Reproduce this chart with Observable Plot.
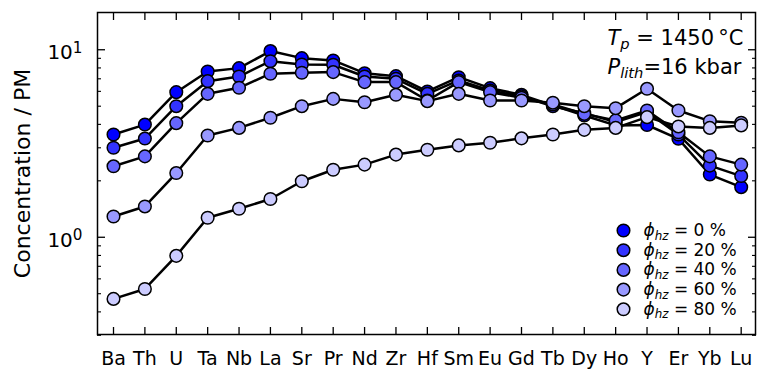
<!DOCTYPE html>
<html><head><meta charset="utf-8">
<script src="https://cdn.jsdelivr.net/npm/d3@7"></script>
<script src="https://cdn.jsdelivr.net/npm/@observablehq/plot@0.6"></script>
<style>
body{margin:0;background:#fff;}
#chart svg{font-family:"DejaVu Sans",sans-serif;}
</style>
</head><body><div id="chart"></div>
<script>
const elements = ["Ba","Th","U","Ta","Nb","La","Sr","Pr","Nd","Zr","Hf","Sm","Eu","Gd","Tb","Dy","Ho","Y","Er","Yb","Lu"];
const phi0  = [3.53, 3.99, 5.94, 7.66, 7.98, 9.84, 9.02, 8.77, 7.50, 7.23, 5.99, 7.14, 6.24, 5.75, 5.05, 4.46, 3.95, 3.97, 3.35, 2.16, 1.85];
const phi20 = [3.00, 3.36, 5.00, 6.80, 7.20, 8.69, 8.35, 8.32, 7.20, 7.00, 5.82, 6.86, 6.06, 5.65, 5.00, 4.59, 4.11, 4.65, 3.53, 2.41, 2.12];
const phi40 = [2.39, 2.70, 4.06, 5.82, 6.27, 7.45, 7.54, 7.60, 6.72, 6.72, 5.36, 6.72, 5.94, 5.55, 5.11, 4.55, 4.20, 4.74, 3.63, 2.70, 2.44];
const phi60 = [1.29, 1.46, 2.20, 3.49, 3.83, 4.34, 5.00, 5.47, 5.25, 5.75, 5.32, 5.82, 5.36, 5.36, 5.22, 5.00, 4.88, 6.19, 4.74, 4.16, 4.08];
const phi80 = [0.469, 0.530, 0.796, 1.27, 1.42, 1.60, 1.99, 2.29, 2.44, 2.76, 2.93, 3.09, 3.19, 3.37, 3.53, 3.74, 3.83, 4.37, 3.90, 3.83, 3.95];
const phiLevels = [0, 20, 40, 60, 80];
const seriesValues = [phi0, phi20, phi40, phi60, phi80];
const colors = ["#0000ff", "#3333ff", "#6666ff", "#9999ff", "#ccccff"];
const yMajor = [1, 10];
const yMinor = [0.3, 0.4, 0.5, 0.6, 0.7, 0.8, 0.9, 2, 3, 4, 5, 6, 7, 8, 9];
const yLabel = "Concentration / PM";
const annotationLines = ["T_p = 1450\u2009°C", "P_lith=16 kbar"];

const series = phiLevels.map((p, s) => seriesValues[s].map((v, i) => ({i, el: elements[i], v, phi: p, color: colors[s]})));
const xTicks = d3.range(elements.length);

const marks = [];
series.forEach(rows => {
  marks.push(Plot.line(rows, {x: "i", y: "v", stroke: "black", strokeWidth: 2.5}));
  marks.push(Plot.dot(rows, {x: "i", y: "v", r: 6.3, fill: d => d.color, stroke: "black", strokeWidth: 1.5}));
});

// legend
phiLevels.forEach((p, k) => {
  marks.push(Plot.dot([p], {frameAnchor: "top-left", dx: 526, dy: 218 + 19.7 * k, r: 6.3, fill: colors[k], stroke: "black", strokeWidth: 1.5}));
  marks.push(Plot.text([p], {frameAnchor: "top-left", dx: 546, dy: 218 + 19.7 * k, text: d => `ϕ_hz = ${d} %`, textAnchor: "start", lineAnchor: "middle", fontSize: 17, fill: "black"}));
});

annotationLines.forEach((t, k) => {
  marks.push(Plot.text([t], {frameAnchor: "top-left", dx: 510, dy: 25.5 + 29 * k, text: d => d, textAnchor: "start", lineAnchor: "middle", fontSize: 21, fill: "black"}));
});

const chart = Plot.plot({
  width: 757, height: 369,
  marginLeft: 97, marginRight: 2, marginTop: 12, marginBottom: 35,
  style: {fontFamily: "DejaVu Sans", background: "white", color: "black", overflow: "visible"},
  x: {type: "linear", domain: [-0.51, 20.456]},
  y: {type: "log", domain: [0.303, 15.8]},
  marks: [
    Plot.axisX({anchor: "bottom", ticks: xTicks, tickSize: -7, tickFormat: () => "", strokeWidth: 1.3, label: null}),
    Plot.axisX({anchor: "top", ticks: xTicks, tickSize: -7, tickFormat: () => "", strokeWidth: 1.3, label: null}),
    Plot.axisX({anchor: "bottom", ticks: xTicks, tickSize: 0, tickPadding: 16.5, tickFormat: i => elements[i], fontSize: 19, label: null}),
    Plot.axisY({anchor: "left", ticks: yMajor, tickSize: -8, tickFormat: () => "", strokeWidth: 1.3, label: null}),
    Plot.axisY({anchor: "left", ticks: yMinor, tickSize: -4, tickFormat: () => "", strokeWidth: 1.1, label: null}),
    Plot.axisY({anchor: "right", ticks: yMajor, tickSize: -8, tickFormat: () => "", strokeWidth: 1.3, label: null}),
    Plot.axisY({anchor: "right", ticks: yMinor, tickSize: -4, tickFormat: () => "", strokeWidth: 1.1, label: null}),
    Plot.axisY({anchor: "left", ticks: yMajor, tickSize: 0, tickPadding: 15, tickFormat: d => "10^" + Math.round(Math.log10(d)), fontSize: 20, dy: 3, label: null}),
    Plot.text([yLabel], {frameAnchor: "left", dx: -75, dy: 0, rotate: -90, text: d => d, fontSize: 22, textAnchor: "middle", lineAnchor: "middle", fill: "black"}),
    ...marks,
    Plot.frame({stroke: "black", strokeWidth: 1.5})
  ]
});

// rich text: subscripts and superscripts
d3.select(chart).selectAll("text").each(function() {
  const t = this.textContent;
  let m;
  const sel = d3.select(this);
  if ((m = t.match(/^10\^(-?\d+)$/))) {
    sel.text(null);
    sel.append("tspan").text("10");
    sel.append("tspan").attr("dy", "-0.42em").attr("font-size", "76%").text(m[1]);
  } else if ((m = t.match(/^(.)_(\w+)(.*)$/))) {
    sel.text(null);
    sel.append("tspan").attr("font-style", "italic").text(m[1]);
    sel.append("tspan").attr("font-style", "italic").attr("font-size", "70%").attr("dy", "0.3em").text(m[2]);
    sel.append("tspan").attr("dy", "-0.21em").text(m[3]);
  }
});

document.getElementById("chart").appendChild(chart);
</script>
</body></html>
